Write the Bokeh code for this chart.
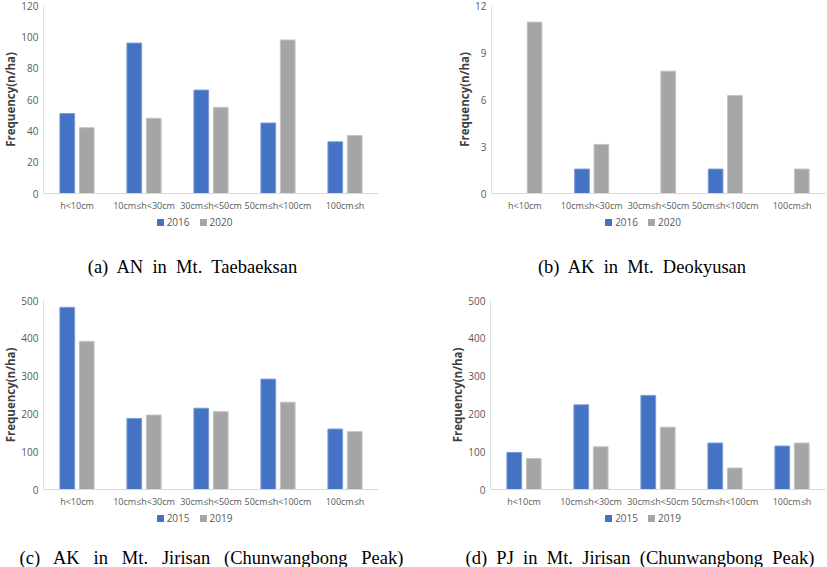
from bokeh.plotting import figure
from bokeh.models import ColumnDataSource, FactorRange, Range1d, FixedTicker, Div
from bokeh.transform import dodge
from bokeh.layouts import column, row
from bokeh.embed import file_html
from bokeh.resources import INLINE

categories = ["h<10cm", "10cm\u2264h<30cm", "30cm\u2264h<50cm", "50cm\u2264h<100cm", "100cm\u2264h"]

# (a) AN in Mt. Taebaeksan
a_2016 = [51, 96, 66, 45, 33]
a_2020 = [42, 48, 55, 98, 37]
# (b) AK in Mt. Deokyusan
b_2016 = [0, 1.56, 0, 1.56, 0]
b_2020 = [10.94, 3.13, 7.81, 6.25, 1.56]
# (c) AK in Mt. Jirisan
c_2015 = [482, 188, 215, 292, 160]
c_2019 = [392, 197, 206, 231, 153]
# (d) PJ in Mt. Jirisan
d_2015 = [98, 224, 249, 123, 115]
d_2019 = [82, 113, 165, 57, 123]

a_ticks = [0, 20, 40, 60, 80, 100, 120]
b_ticks = [0, 3, 6, 9, 12]
c_ticks = [0, 100, 200, 300, 400, 500]
d_ticks = [0, 100, 200, 300, 400, 500]

BLUE = "#4472C4"
BLUE_EDGE = "#7C9BD6"
GRAY = "#A5A5A5"
GRAY_EDGE = "#C4C4C4"
TEXT = "#595959"
SANS = "Open Sans"


def chart(s1, s2, ticks, width, height, left, right, top, bottom):
    src = ColumnDataSource(dict(
        cat=categories, v1=s1, v2=s2,
        a1=[1 if v > 0 else 0 for v in s1],
        a2=[1 if v > 0 else 0 for v in s2],
    ))
    p = figure(width=width, height=height, x_range=FactorRange(*categories, range_padding=0),
               y_range=Range1d(0, ticks[-1]), output_backend="svg", toolbar_location=None,
               min_border_left=left, min_border_right=right, min_border_top=top,
               min_border_bottom=bottom)
    p.outline_line_color = None
    p.xgrid.grid_line_color = None
    p.ygrid.grid_line_color = None
    p.vbar(x=dodge("cat", -0.145, range=p.x_range), top="v1", width=0.22, source=src,
           fill_color=BLUE, line_color=BLUE_EDGE, line_alpha="a1", line_width=1)
    p.vbar(x=dodge("cat", 0.145, range=p.x_range), top="v2", width=0.22, source=src,
           fill_color=GRAY, line_color=GRAY_EDGE, line_alpha="a2", line_width=1)

    p.yaxis.ticker = FixedTicker(ticks=ticks)
    p.yaxis.axis_label = "Frequency(n/ha)"
    p.yaxis.axis_label_text_font = SANS
    p.yaxis.axis_label_text_font_size = "11.5px"
    p.yaxis.axis_label_text_font_style = "bold"
    p.yaxis.axis_label_text_color = "#404040"
    p.yaxis.axis_label_standoff = 0
    p.yaxis.major_label_text_font = SANS
    p.yaxis.major_label_text_font_size = "10px"
    p.yaxis.major_label_text_color = TEXT
    p.yaxis.major_label_standoff = 5
    p.yaxis.major_tick_out = 0
    p.yaxis.major_tick_in = 0
    p.yaxis.minor_tick_out = 0
    p.yaxis.minor_tick_in = 0
    p.yaxis.axis_line_color = "#E0E0E0"

    p.xaxis.major_label_text_font = SANS
    p.xaxis.major_label_text_font_size = "9px"
    p.xaxis.major_label_text_color = TEXT
    p.xaxis.major_label_standoff = 5
    p.xaxis.major_tick_out = 0
    p.xaxis.major_tick_in = 0
    p.xaxis.axis_line_color = "#D9D9D9"
    return p


def legend_div(names, width, shift):
    sq = "display:inline-block;width:7px;height:7px;vertical-align:0px;"
    html = (f'<div style="width:{width}px;height:14px;line-height:14px;text-align:center;'
            f'font-family:\'{SANS}\';font-size:10px;color:{TEXT};white-space:nowrap;'
            f'position:relative;left:{shift}px;">'
            f'<span style="{sq}background:{BLUE};margin-right:3px;"></span>{names[0]}'
            f'<span style="{sq}background:{GRAY};margin-left:10px;margin-right:3px;"></span>{names[1]}'
            f'</div>')
    return Div(text=html, width=width, height=14, margin=0)


def caption_div(text, width, height, pad, shift):
    html = (f'<div style="width:{width}px;height:{height}px;padding-top:{pad}px;box-sizing:border-box;'
            f'text-align:center;font-family:\'Liberation Serif\';font-size:18.5px;line-height:20px;'
            f'color:#000;white-space:pre;position:relative;left:{shift}px;">{text}</div>')
    return Div(text=html, width=width, height=height, margin=0)


pa = chart(a_2016, a_2020, a_ticks, 413, 214, 42, 35, 5, 19)
pb = chart(b_2016, b_2020, b_ticks, 414, 214, 78, 2, 5, 19)
pc = chart(c_2015, c_2019, c_ticks, 413, 220, 42, 35, 10, 20)
pd = chart(d_2015, d_2019, d_ticks, 414, 220, 77, 2, 10, 20)

col_a = column(pa, legend_div(["2016", "2020"], 413, -12),
               caption_div("(a)  AN  in  Mt.  Taebaeksan", 413, 62, 29, -14), spacing=0)
col_b = column(pb, legend_div(["2016", "2020"], 414, 23),
               caption_div("(b)  AK  in  Mt.  Deokyusan", 414, 62, 29, 22), spacing=0)
col_c = column(pc, legend_div(["2015", "2019"], 413, -12),
               caption_div("(c)   AK   in   Mt.   Jirisan   (Chunwangbong   Peak)", 413, 43, 24, 5), spacing=0)
col_d = column(pd, legend_div(["2015", "2019"], 414, 23),
               caption_div("(d)  PJ  in  Mt.  Jirisan  (Chunwangbong  Peak)", 414, 43, 24, 20), spacing=0)

layout = column(row(col_a, col_b, spacing=0), row(col_c, col_d, spacing=0), spacing=0)
open("out.html", "w").write(file_html(layout, INLINE))
